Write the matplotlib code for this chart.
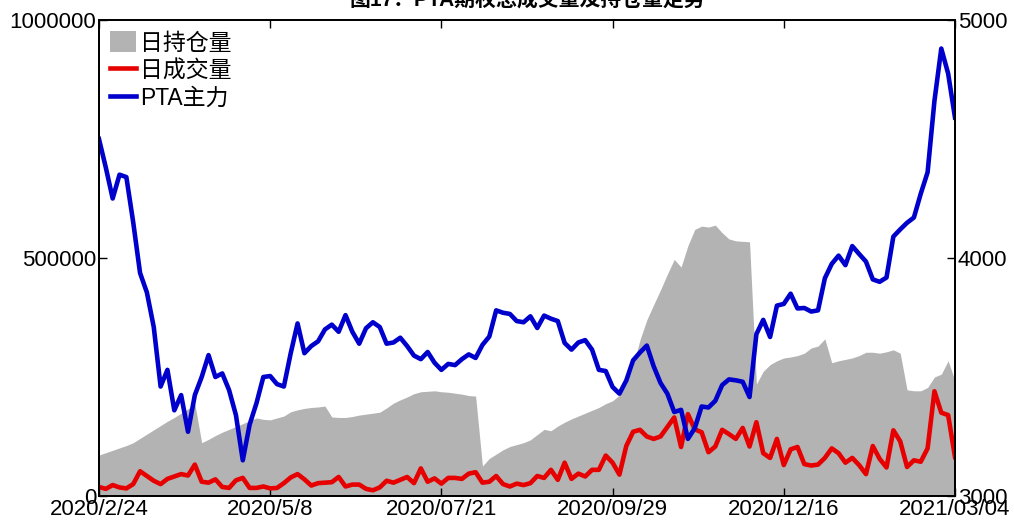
import numpy as np
import matplotlib
matplotlib.use('Agg')
import matplotlib.pyplot as plt
from matplotlib.patches import Patch
from matplotlib.lines import Line2D

plt.rcParams['font.family'] = ['Liberation Sans', 'Noto Sans CJK SC', 'DejaVu Sans']

# every second trading day, 2020/2/24 .. 2021/03/04
tick_labels = ['2020/2/24', '2020/5/8', '2020/07/21', '2020/09/29', '2020/12/16', '2021/03/04']

# 日持仓量 (left axis)
open_interest = [
    86000, 91000, 96000, 101000, 106000, 112000, 121000, 130000, 139000, 148000,
    157000, 165000, 174000, 183000, 194000, 112000, 119000, 127000, 134000, 140000,
    146000, 152000, 158000, 164000, 161000, 160000, 164000, 168000, 177000, 181000,
    184000, 186000, 187000, 189000, 166000, 165000, 165000, 167000, 170000, 172000,
    174000, 176000, 185000, 195000, 202000, 208000, 215000, 219000, 220000, 221000,
    219000, 218000, 216000, 214000, 211000, 210000, 63000, 79000, 88000, 97000,
    104000, 108000, 112000, 118000, 129000, 140000, 137000, 147000, 155000, 162000,
    168000, 174000, 180000, 186000, 194000, 200000, 212000, 235000, 274000, 328000,
    370000, 402000, 433000, 466000, 497000, 481000, 526000, 560000, 567000, 565000,
    569000, 553000, 540000, 536000, 535000, 534000, 235000, 262000, 276000, 284000,
    290000, 292000, 295000, 300000, 311000, 315000, 330000, 280000, 284000, 287000,
    290000, 295000, 302000, 302000, 300000, 303000, 307000, 300000, 223000, 221000,
    221000, 228000, 250000, 256000, 284000, 242000,
]

# 日成交量 (left axis)
volume = [
    19000, 15000, 23000, 18000, 16000, 25000, 52000, 42000, 32000, 25000,
    36000, 41000, 46000, 43000, 66000, 30000, 28000, 35000, 19000, 17000,
    33000, 38000, 17000, 17000, 20000, 16000, 17000, 27000, 39000, 46000,
    35000, 22000, 27000, 28000, 29000, 40000, 20000, 24000, 24000, 15000,
    12000, 18000, 32000, 28000, 34000, 40000, 27000, 58000, 30000, 37000,
    26000, 38000, 38000, 36000, 47000, 50000, 28000, 30000, 42000, 25000,
    20000, 26000, 23000, 27000, 42000, 38000, 55000, 34000, 70000, 36000,
    47000, 41000, 55000, 55000, 85000, 70000, 45000, 105000, 135000, 139000,
    125000, 120000, 125000, 145000, 165000, 103000, 172000, 140000, 134000, 92000,
    104000, 139000, 130000, 120000, 143000, 104000, 155000, 90000, 80000, 120000,
    65000, 98000, 103000, 67000, 64000, 66000, 80000, 100000, 90000, 70000,
    80000, 65000, 46000, 105000, 78000, 60000, 138000, 115000, 61000, 75000,
    72000, 100000, 220000, 175000, 170000, 82000,
]

# PTA主力 (right axis)
pta = [
    4500, 4380, 4250, 4350, 4340, 4150, 3937, 3855, 3710, 3460,
    3530, 3360, 3424, 3270, 3424, 3500, 3592, 3500, 3515, 3445,
    3340, 3150, 3300, 3390, 3500, 3504, 3470, 3460, 3600, 3725,
    3600, 3630, 3650, 3700, 3720, 3690, 3760, 3690, 3640, 3705,
    3730, 3710, 3640, 3645, 3665, 3630, 3590, 3575, 3605, 3560,
    3530, 3555, 3550, 3575, 3595, 3580, 3635, 3670, 3780, 3770,
    3765, 3735, 3730, 3755, 3706, 3758, 3745, 3735, 3643, 3615,
    3645, 3655, 3615, 3530, 3525, 3458, 3430, 3485, 3570, 3603,
    3632, 3545, 3475, 3430, 3353, 3362, 3240, 3285, 3376, 3372,
    3400, 3466, 3490, 3486, 3480, 3416, 3680, 3740, 3668, 3800,
    3807, 3850, 3788, 3790, 3775, 3780, 3915, 3975, 4010, 3970,
    4050, 4017, 3985, 3910, 3900, 3918, 4090, 4120, 4148, 4170,
    4270, 4360, 4660, 4880, 4775, 4590,
]

x = np.arange(len(pta))
gray = '#b3b3b3'
red = '#e60000'
blue = '#0000cc'

fig = plt.figure(figsize=(10.14, 5.22), dpi=100)
ax = fig.add_axes([0.0976, 0.0498, 0.8442, 0.9119])
ax.fill_between(x, 0, open_interest, color=gray, lw=0)
ax.plot(x, volume, color=red, lw=3.3)
ax.set_xlim(0, len(x) - 1)
ax.set_ylim(0, 1000000)
ax.set_yticks([0, 500000, 1000000])
ax.set_yticklabels(['0', '500000', '1000000'])
ax.set_xticks(np.linspace(0, len(x) - 1, len(tick_labels)))
ax.set_xticklabels(tick_labels)

ax2 = ax.twinx()
ax2.plot(x, pta, color=blue, lw=3.3)
ax2.set_ylim(3000, 5000)
ax2.set_yticks([3000, 4000, 5000])

for a in (ax, ax2):
    a.tick_params(direction='in', length=6, width=1, labelsize=16, pad=2)
    for s in a.spines.values():
        s.set_linewidth(1.3)
ax.tick_params(axis='x', top=True)

handles = [Patch(facecolor=gray, edgecolor='none'),
           Line2D([], [], color=red, lw=3.3),
           Line2D([], [], color=blue, lw=3.3)]
ax2.legend(handles, ['日持仓量', '日成交量', 'PTA主力'], loc='upper left',
           frameon=False, fontsize=16.5, handlelength=1.1, handleheight=1.0,
           handletextpad=0.2, labelspacing=0.2, borderaxespad=0.3,
           borderpad=0.2)

fig.text(0.52, 0.988, '图17：PTA期权总成交量及持仓量走势', ha='center',
         va='baseline', fontsize=15, fontweight='bold')

fig.savefig('out.png', dpi=100)
